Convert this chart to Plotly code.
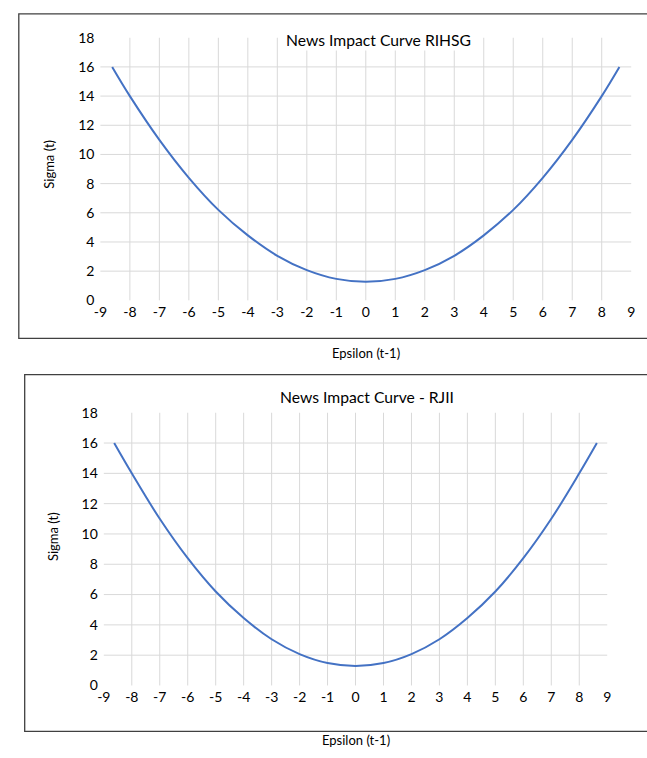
import plotly.graph_objects as go

W, H = 647, 758

# Data
eps_rihsg = [-8.6, -8, -7, -6, -5, -4, -3, -2, -1, 0, 1, 2, 3, 4, 5, 6, 7, 8, 8.6]
sigma_rihsg = [16.0, 14.0, 11.0, 8.4, 6.2, 4.45, 3.05, 2.07, 1.47, 1.27, 1.47, 2.07, 3.05, 4.45, 6.2, 8.4, 11.0, 14.0, 16.0]

eps_rjii = [-8.63, -8, -7, -6, -5, -4, -3, -2, -1, 0, 1, 2, 3, 4, 5, 6, 7, 8, 8.63]
sigma_rjii = [16.0, 14.0, 11.0, 8.4, 6.2, 4.45, 3.05, 2.07, 1.48, 1.29, 1.48, 2.07, 3.05, 4.45, 6.2, 8.4, 11.0, 14.0, 16.0]

x_ticks = list(range(-9, 10))
x_tick_labels = [str(v) for v in x_ticks]
y_ticks = list(range(0, 19, 2))
y_tick_labels = [str(v) for v in y_ticks]

titles = ["News Impact Curve RIHSG", "News Impact Curve - RJII"]
x_title = "Epsilon (t-1)"
y_title = "Sigma (t)"

FONT = "Lato"
BLUE = "#4472C4"
GRID = "#D9D9D9"


def px(x):
    return x / W


def py(y):
    return 1 - y / H


fig = go.Figure()
fig.add_trace(go.Scatter(x=eps_rihsg, y=sigma_rihsg, mode="lines", line=dict(color=BLUE, width=2, shape="spline"),
                         xaxis="x", yaxis="y", showlegend=False, hoverinfo="skip"))
fig.add_trace(go.Scatter(x=eps_rjii, y=sigma_rjii, mode="lines", line=dict(color=BLUE, width=2, shape="spline"),
                         xaxis="x2", yaxis="y2", showlegend=False, hoverinfo="skip"))

axis_common = dict(showgrid=False, zeroline=False, showline=False, ticks="",
                   tickfont=dict(family=FONT, size=14, color="#000000"), fixedrange=True)
xax = dict(range=[-9, 9], tickmode="array", tickvals=x_ticks, ticktext=x_tick_labels, ticklabelstandoff=2, **axis_common)
yax = dict(range=[0, 18], tickmode="array", tickvals=y_ticks, ticktext=y_tick_labels, ticklabelstandoff=5, **axis_common)

# interior gridlines (Excel hides the ones on the plot-area edges)
shapes = []
for xa, ya in (("x", "y"), ("x2", "y2")):
    for v in x_ticks[1:-1]:
        shapes.append(dict(type="line", xref=xa, yref=ya + " domain", x0=v, x1=v, y0=0, y1=1,
                           line=dict(color=GRID, width=1), layer="below"))
    for v in y_ticks[1:-1]:
        shapes.append(dict(type="line", xref=xa + " domain", yref=ya, x0=0, x1=1, y0=v, y1=v,
                           line=dict(color=GRID, width=1), layer="below"))

shapes += [
    dict(type="rect", xref="paper", yref="paper", x0=px(12), x1=px(660), y0=py(337), y1=py(5),
         line=dict(color="#404040", width=1.3), fillcolor="rgba(0,0,0,0)", layer="above"),
    dict(type="rect", xref="paper", yref="paper", x0=px(18), x1=px(660), y0=py(739), y1=py(374),
         line=dict(color="#404040", width=1.3), fillcolor="rgba(0,0,0,0)", layer="above"),
]

TFONT = dict(family=FONT, size=15.7, color="#000000")
AFONT = dict(family=FONT, size=13, color="#000000")

fig.update_layout(
    width=W, height=H, margin=dict(l=0, r=0, t=0, b=0),
    paper_bgcolor="white", plot_bgcolor="white", hovermode=False,
    xaxis=dict(domain=[px(95), px(635)], anchor="y", **xax),
    yaxis=dict(domain=[py(298), py(29.4)], anchor="x", **yax),
    xaxis2=dict(domain=[px(98.5), px(610.6)], anchor="y2", **xax),
    yaxis2=dict(domain=[py(692), py(413)], anchor="x2", **yax),
    shapes=shapes,
    annotations=[
        dict(text=titles[0], x=px(377.5), y=py(32), xref="paper", yref="paper", showarrow=False,
             xanchor="center", yanchor="middle", font=TFONT, bgcolor="white"),
        dict(text=titles[1], x=px(366), y=py(397), xref="paper", yref="paper", showarrow=False,
             xanchor="center", yanchor="middle", font=TFONT, bgcolor="white"),
        dict(text=x_title, x=px(365), y=py(352), xref="paper", yref="paper", showarrow=False,
             xanchor="center", yanchor="middle", font=AFONT),
        dict(text=x_title, x=px(355), y=py(748), xref="paper", yref="paper", showarrow=False,
             xanchor="center", yanchor="middle", font=AFONT),
        dict(text=y_title, x=px(43), y=py(159), xref="paper", yref="paper", showarrow=False, textangle=-90,
             xanchor="center", yanchor="middle", font=AFONT),
        dict(text=y_title, x=px(47), y=py(540), xref="paper", yref="paper", showarrow=False, textangle=-90,
             xanchor="center", yanchor="middle", font=AFONT),
    ],
)

fig.write_html("out.html", config={"displayModeBar": False, "staticPlot": True})

# remove the default page margin so the figure sits at the window's top-left corner
with open("out.html", "r", encoding="utf-8") as f:
    html = f.read()
html = html.replace("<head>", "<head><style>html,body{margin:0;padding:0;overflow:hidden;}</style>", 1)
with open("out.html", "w", encoding="utf-8") as f:
    f.write(html)
